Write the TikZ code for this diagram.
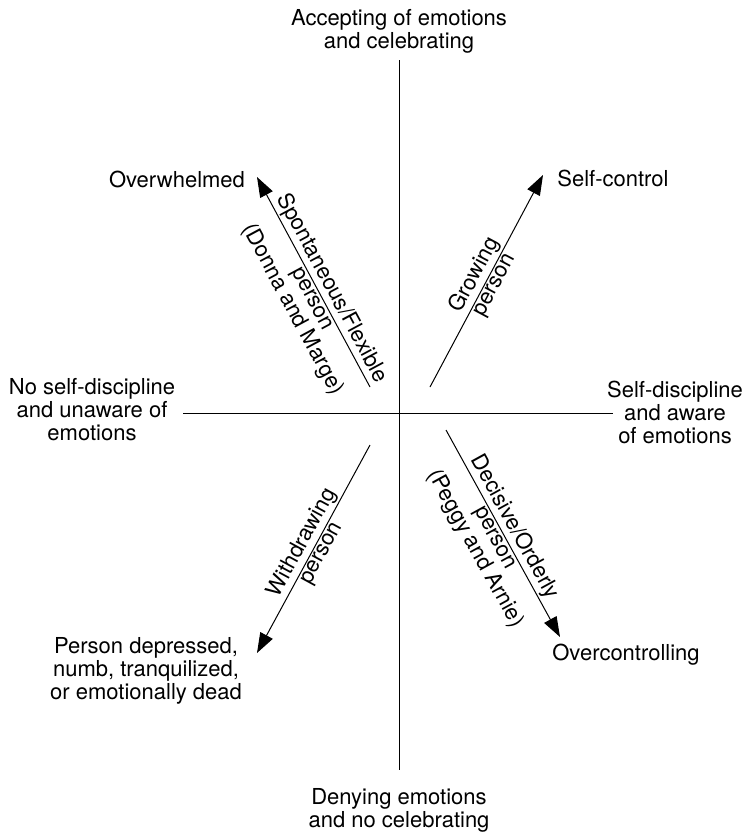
\documentclass[tikz,border=0pt]{standalone}
\usepackage{fontspec}
\setmainfont{TeX Gyre Heros}
\usetikzlibrary{arrows.meta}
\begin{document}
\begin{tikzpicture}[x=1pt,y=-1pt,
  lbl/.style={font=\fontsize{22}{23}\selectfont, align=center, inner sep=0pt},
  axisline/.style={line width=1pt},
  arr/.style={line width=1pt, -{Triangle[length=20pt,width=14pt]}},
  onl/.style={font=\fontsize{22}{23}\selectfont, align=center, sloped, inner sep=2pt}]
\useasboundingbox (0,0) rectangle (746,833);
\node[lbl] (top) at (399,31) {Accepting of emotions\\and celebrating};
\node[lbl] (bottom) at (399,810) {Denying emotions\\and no celebrating};
\node[lbl] (left) at (92,410) {No self-discipline\\and unaware of\\emotions};
\node[lbl] (right) at (675,412) {Self-discipline\\and aware\\of emotions};
\node[lbl] (ow) at (177,179) {Overwhelmed};
\node[lbl] (sc) at (613,178) {Self-control};
\node[lbl] (oc) at (626,655) {Overcontrolling};
\node[lbl] (pd) at (146,671) {Person depressed,\\numb, tranquilized,\\or emotionally dead};
\coordinate (vt) at (399,60);
\coordinate (vb) at (399,770);
\coordinate (hl) at (183,413);
\coordinate (hr) at (613,413);
\draw[axisline] (vt) -- (vb);
\draw[axisline] (hl) -- (hr);
\coordinate (ul0) at (370,387);
\coordinate (ul1) at (257,177);
\coordinate (ur0) at (430,387);
\coordinate (ur1) at (543,175);
\coordinate (ll0) at (370,445);
\coordinate (ll1) at (257,653);
\coordinate (lr0) at (446,430);
\coordinate (lr1) at (560,637);
\draw[arr] (ul0) -- node[onl, above, pos=0.44] (ulA) {Spontaneous/Flexible}
  node[onl, below, pos=0.44] (ulB) {person\\(Donna and Marge)} (ul1);
\draw[arr] (ur0) -- node[onl, above, pos=0.5] (urA) {Growing}
  node[onl, below, pos=0.5] (urB) {person} (ur1);
\draw[arr] (ll0) -- node[onl, above, pos=0.5] (llA) {Withdrawing}
  node[onl, below, pos=0.5] (llB) {person} (ll1);
\draw[arr] (lr0) -- node[onl, above, pos=0.5] (lrA) {Decisive/Orderly}
  node[onl, below, pos=0.5] (lrB) {person\\(Peggy and Arnie)} (lr1);
\end{tikzpicture}
\end{document}
